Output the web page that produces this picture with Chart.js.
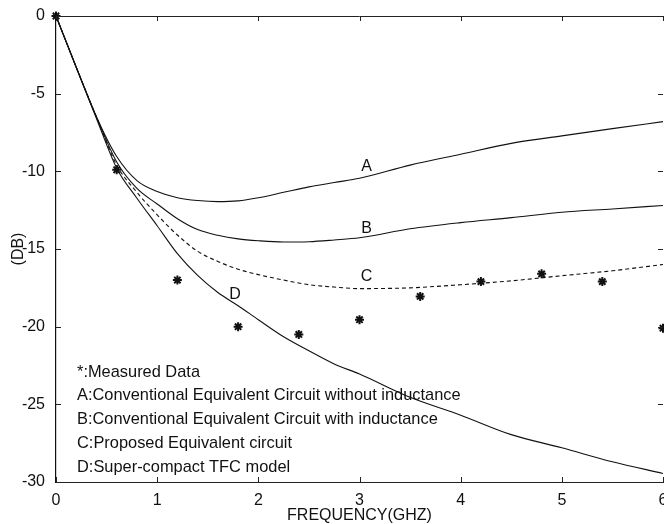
<!DOCTYPE html>
<html>
<head>
<meta charset="utf-8">
<title>Insertion loss vs frequency</title>
<script src="https://cdn.jsdelivr.net/npm/chart.js@4.4.0/dist/chart.umd.min.js"></script>
<style>
  html, body { margin: 0; padding: 0; background: #fff; }
</style>
</head>
<body>
<canvas id="chart" width="664" height="524"></canvas>
<script>
// frequency grid (GHz) shared by the model curves
const freq = [0, 0.2, 0.4, 0.6, 0.8, 1.0, 1.2, 1.4, 1.6, 1.8, 2.0, 2.25, 2.5, 2.75, 3.0, 3.5, 4.0, 4.5, 5.0, 5.5, 6.0];

// A: conventional, no inductance
const curveA = [0, -3.3, -6.5, -9.05, -10.6, -11.3, -11.7, -11.88, -11.95, -11.9, -11.7, -11.35, -11.0, -10.72, -10.45, -9.6, -8.9, -8.2, -7.72, -7.25, -6.8];
// B: conventional, with inductance
const curveB = [0, -3.3, -6.5, -9.4, -11.1, -12.1, -13.05, -13.75, -14.12, -14.35, -14.47, -14.55, -14.53, -14.42, -14.28, -13.7, -13.3, -12.98, -12.63, -12.42, -12.2];
// C: proposed equivalent circuit
const curveC = [0, -3.3, -6.5, -9.6, -11.35, -12.8, -14.1, -15.15, -15.8, -16.3, -16.65, -17.0, -17.3, -17.45, -17.55, -17.5, -17.3, -17.05, -16.72, -16.4, -16.0];
// D: super-compact TFC model
const curveD = [0, -3.3, -6.6, -9.8, -11.73, -13.5, -15.3, -16.7, -17.8, -18.65, -19.55, -20.65, -21.55, -22.4, -23.05, -24.55, -25.7, -26.95, -27.8, -28.7, -29.45];

// measured data
const measFreq = [0, 0.6, 1.2, 1.8, 2.4, 3.0, 3.6, 4.2, 4.8, 5.4, 6.0];
const measDb = [0, -9.9, -17.0, -20.0, -20.5, -19.55, -18.05, -17.1, -16.6, -17.1, -20.1];

const notes = [
  "*:Measured Data",
  "A:Conventional Equivalent Circuit without inductance",
  "B:Conventional Equivalent Circuit with inductance",
  "C:Proposed Equivalent circuit",
  "D:Super-compact TFC model"
];
const curveTags = ["A", "B", "C", "D"];
const tagFreq = [3.07, 3.07, 3.07, 1.77];
const tagDb = [-9.7, -13.7, -16.75, -17.95];

const FONT = "'Liberation Sans', Arial, Helvetica, sans-serif";
const INK = "#111";

function toPoints(xs, ys) {
  return xs.map((x, i) => ({ x: x, y: ys[i] }));
}

function curve(values, dash) {
  return {
    data: toPoints(freq, values),
    showLine: true,
    borderColor: INK,
    borderWidth: 1.1,
    borderDash: dash,
    pointRadius: 0,
    cubicInterpolationMode: "monotone",
    fill: false
  };
}

// frame on top/right, inward tick marks, notes and curve tags
const decorations = {
  id: "decorations",
  afterDatasetsDraw(chart) {
    const { ctx, chartArea: a, scales: { x, y } } = chart;
    ctx.save();
    ctx.strokeStyle = "#222";
    ctx.lineWidth = 1;
    ctx.beginPath();
    ctx.moveTo(a.left, a.top + 0.5);
    ctx.lineTo(a.right, a.top + 0.5);
    x.ticks.forEach(t => {
      const px = Math.round(x.getPixelForValue(t.value)) + 0.5;
      ctx.moveTo(px, a.bottom);
      ctx.lineTo(px, a.bottom - 5);
      ctx.moveTo(px, a.top);
      ctx.lineTo(px, a.top + 5);
    });
    y.ticks.forEach(t => {
      const py = Math.round(y.getPixelForValue(t.value)) + 0.5;
      ctx.moveTo(a.left, py);
      ctx.lineTo(a.left + 5, py);
      ctx.moveTo(a.right, py);
      ctx.lineTo(a.right - 5, py);
    });
    ctx.stroke();

    ctx.fillStyle = INK;
    ctx.font = "16.4px " + FONT;
    ctx.textBaseline = "middle";
    ctx.textAlign = "left";
    notes.forEach((s, i) => {
      ctx.fillText(s, a.left + 21, a.bottom - 110 + i * 23.75);
    });

    ctx.font = "16px " + FONT;
    ctx.textAlign = "center";
    curveTags.forEach((s, i) => {
      ctx.fillText(s, x.getPixelForValue(tagFreq[i]), y.getPixelForValue(tagDb[i]));
    });
    ctx.restore();
  }
};

new Chart(document.getElementById("chart"), {
  type: "scatter",
  data: {
    datasets: [
      curve(curveA, []),
      curve(curveB, []),
      curve(curveC, [4, 3]),
      curve(curveD, []),
      {
        data: toPoints(measFreq, measDb),
        showLine: false,
        pointStyle: "star",
        pointRadius: 4.5,
        borderWidth: 2,
        borderColor: INK,
        backgroundColor: INK,
        clip: false
      }
    ]
  },
  options: {
    responsive: false,
    animation: false,
    devicePixelRatio: 1,
    layout: { autoPadding: false, padding: { top: 16, right: 1, left: 0, bottom: 0 } },
    plugins: { legend: { display: false }, tooltip: { enabled: false } },
    scales: {
      x: {
        type: "linear",
        min: 0,
        max: 6,
        ticks: { stepSize: 1, color: INK, padding: 1, maxRotation: 0, font: { family: FONT, size: 16 } },
        grid: { display: false },
        border: { display: true, color: "#222", width: 1 },
        title: {
          display: true,
          text: "FREQUENCY(GHZ)",
          color: INK,
          padding: { top: 0, bottom: 0 },
          font: { family: FONT, size: 16, lineHeight: 1 }
        },
        afterFit(scale) {
          scale.height = 42;
          scale.paddingLeft = 0;
          scale.paddingRight = 0;
        }
      },
      y: {
        type: "linear",
        min: -30,
        max: 0,
        ticks: { stepSize: 5, color: INK, padding: 3, font: { family: FONT, size: 16 } },
        grid: { display: false },
        border: { display: true, color: "#111", width: 1.2 },
        title: {
          display: true,
          text: "(DB)",
          color: INK,
          padding: { top: 11, bottom: 0 },
          font: { family: FONT, size: 16, lineHeight: 1 }
        },
        afterFit(scale) { scale.width = 56; }
      }
    }
  },
  plugins: [decorations]
});
</script>
</body>
</html>
